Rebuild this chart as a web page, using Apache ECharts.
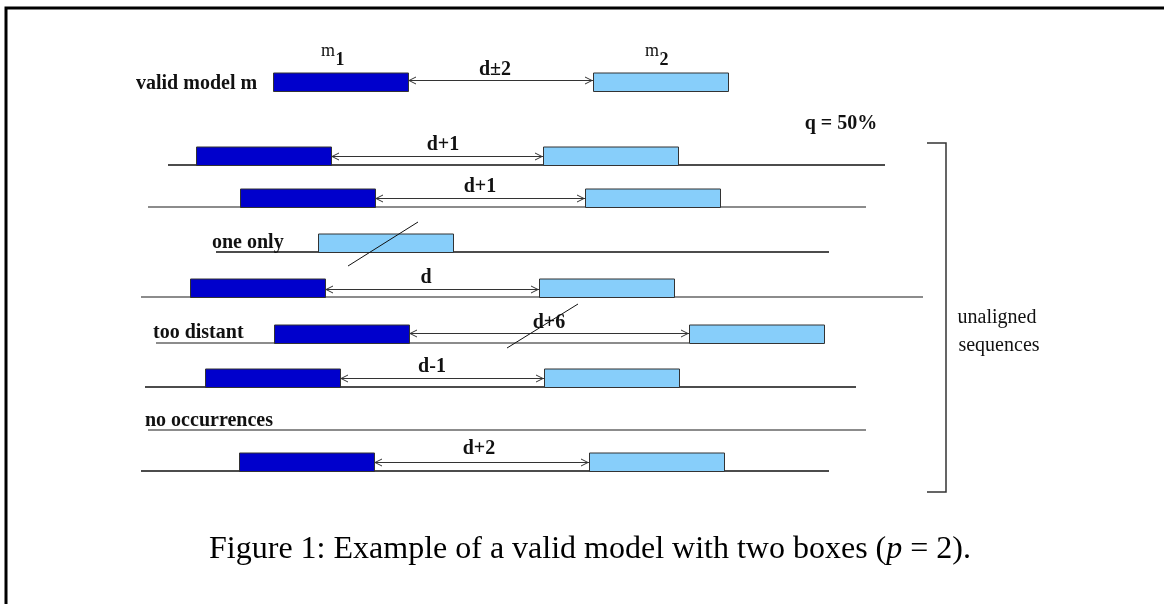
<!DOCTYPE html>
<html><head><meta charset="utf-8">
<script src="https://cdn.jsdelivr.net/npm/echarts@6/dist/echarts.min.js"></script>
<style>html,body{margin:0;padding:0;background:#fff}#c{width:1164px;height:604px}</style>
</head><body><div id="c"></div>
<script>
// ---- diagram data (units: diagram coordinates, x to the right, y downward) ----
const rowBaseline = [91, 165, 207, 252, 297, 343, 387, 430, 471];
const lineFrom    = [null, 168, 148, 216, 141, 156, 145, 148, 141];
const lineTo      = [null, 885, 866, 829, 923, 689, 856, 866, 829];
const lineShade   = [null, 0, 1, 0, 1, 1, 0, 1, 0];
const box1Start   = [273, 196, 240, null, 190, 274, 205, null, 239];
const box2Start   = [593, 543, 585, 318, 539, 689, 544, null, 589];
const boxLength   = 135;
const boxDepth    = 18.5;
const arrowY      = [80, 156, 198, null, 289, 333, 378, null, 462];
const gapLabels   = ['d±2', 'd+1', 'd+1', null, 'd', 'd+6', 'd-1', null, 'd+2'];
const gapLabelX   = [495, 443, 480, null, 426, 549, 432, null, 479];
const gapLabelY   = [70, 145, 187, null, 278, 323, 367, null, 449];
const rowLabels   = ['valid model m', 'one only', 'too distant', 'no occurrences'];
const rowLabelX   = [136, 212, 153, 145];
const rowLabelY   = [84, 243, 333, 421];
const strikes     = [[348, 266, 418, 222], [507, 348, 578, 304]];
const modelNames  = ['m', 'm'];
const modelSubs   = ['1', '2'];
const modelNameX  = [328, 652];
const modelNameY  = [51, 51];
const bracket     = [[927, 143], [946, 143], [946, 492], [927, 492]];
const frame       = [[6, 620], [6, 8], [1180, 8]];
const noteText    = ['q = 50%'];
const noteX       = [841];
const noteY       = [124];
const sideText    = ['unaligned', 'sequences'];
const sideX       = [997, 999];
const sideY       = [318, 346];
const captionText = ['Figure 1: Example of a valid model with two boxes (', 'p', ' = 2).'];
const captionX    = 590, captionY = 550;

// ---- build series data ----
const lineData = [], box1Data = [], box2Data = [], arrowData = [];
rowBaseline.forEach((y, i) => {
  if (lineFrom[i] !== null) lineData.push([lineFrom[i], lineTo[i], y, lineShade[i]]);
  if (box1Start[i] !== null) box1Data.push([box1Start[i], box1Start[i] + boxLength, y - boxDepth, y]);
  if (box2Start[i] !== null) box2Data.push([box2Start[i], box2Start[i] + boxLength, y - boxDepth, y]);
  if (arrowY[i] !== null) arrowData.push([box1Start[i] + boxLength, box2Start[i], arrowY[i]]);
});
const gapData = [];
gapLabels.forEach((t, i) => { if (t) gapData.push([gapLabelX[i], gapLabelY[i], i]); });

const boldSerif = 'bold 20px "Liberation Serif", "Times New Roman", serif';
const regSerif = '20px "Liberation Serif", "Times New Roman", serif';

function boxRender(fill) {
  return function (params, api) {
    const a = api.coord([api.value(0), api.value(2)]);
    const b = api.coord([api.value(1), api.value(3)]);
    return { type: 'rect', shape: { x: a[0] + 0.5, y: a[1] + 0.5, width: b[0] - a[0], height: b[1] - a[1] },
      style: { fill: fill, stroke: '#333', lineWidth: 1 } };
  };
}
function polyRender(points, width, color) {
  return (p, api) => ({ type: 'polyline', shape: { points: points.map(pt => api.coord(pt)) },
    style: { stroke: color, lineWidth: width, fill: 'none' } });
}

const option = {
  animation: false,
  backgroundColor: '#fff',
  grid: { left: 0, right: 0, top: 0, bottom: 0 },
  xAxis: { type: 'value', min: 0, max: 1164, show: false },
  yAxis: { type: 'value', min: 0, max: 604, inverse: true, show: false },
  series: [
    { type: 'custom', silent: true, clip: false, data: [0], renderItem: polyRender(frame, 3, '#000') },
    { // sequence baselines
      type: 'custom', silent: true, data: lineData,
      renderItem: (p, api) => {
        const a = api.coord([api.value(0), api.value(2)]);
        const b = api.coord([api.value(1), api.value(2)]);
        return { type: 'line', shape: { x1: a[0], y1: a[1], x2: b[0], y2: b[1] },
          style: { stroke: api.value(3) ? '#666' : '#111', lineWidth: 1.5 } };
      }
    },
    { // double-headed distance arrows
      type: 'custom', silent: true, data: arrowData,
      renderItem: (p, api) => {
        const a = api.coord([api.value(0), api.value(2)]);
        const b = api.coord([api.value(1), api.value(2)]);
        const st = { stroke: '#333', lineWidth: 1, fill: 'none' };
        return { type: 'group', children: [
          { type: 'line', shape: { x1: a[0], y1: a[1] + 0.5, x2: b[0], y2: b[1] + 0.5 }, style: st },
          { type: 'polyline', shape: { points: [[a[0] + 8, a[1] - 3], [a[0] + 1, a[1] + 0.5], [a[0] + 8, a[1] + 4]] }, style: st },
          { type: 'polyline', shape: { points: [[b[0] - 8, b[1] - 3], [b[0] - 1, b[1] + 0.5], [b[0] - 8, b[1] + 4]] }, style: st }
        ] };
      }
    },
    { type: 'custom', silent: true, data: box1Data, renderItem: boxRender('#0000CC') },
    { type: 'custom', silent: true, data: box2Data, renderItem: boxRender('#87CEFA') },
    { // strike-through lines
      type: 'custom', silent: true, data: strikes,
      renderItem: (p, api) => {
        const a = api.coord([api.value(0), api.value(1)]);
        const b = api.coord([api.value(2), api.value(3)]);
        return { type: 'line', shape: { x1: a[0], y1: a[1], x2: b[0], y2: b[1] }, style: { stroke: '#111', lineWidth: 1 } };
      }
    },
    { type: 'custom', silent: true, data: [0], renderItem: polyRender(bracket, 1.5, '#333') },
    { // gap labels
      type: 'custom', silent: true, data: gapData,
      renderItem: (p, api) => {
        const a = api.coord([api.value(0), api.value(1)]);
        return { type: 'text', x: a[0], y: a[1], style: { text: gapLabels[api.value(2)], font: boldSerif, fill: '#111', align: 'center', verticalAlign: 'middle' } };
      }
    },
    { // row labels
      type: 'custom', silent: true, data: rowLabels.map((t, i) => [rowLabelX[i], rowLabelY[i]]),
      renderItem: (p, api) => {
        const a = api.coord([api.value(0), api.value(1)]);
        return { type: 'text', x: a[0], y: a[1], style: { text: rowLabels[p.dataIndex], font: boldSerif, fill: '#111', align: 'left', verticalAlign: 'middle' } };
      }
    },
    { // model names m1 m2
      type: 'custom', silent: true, data: modelNames.map((t, i) => [modelNameX[i], modelNameY[i]]),
      renderItem: (p, api) => {
        const a = api.coord([api.value(0), api.value(1)]);
        return { type: 'group', children: [
          { type: 'text', x: a[0], y: a[1], style: { text: modelNames[p.dataIndex], font: '18px "Liberation Serif", serif', fill: '#111', align: 'center', verticalAlign: 'middle' } },
          { type: 'text', x: a[0] + 12, y: a[1] + 9, style: { text: modelSubs[p.dataIndex], font: 'bold 18px "Liberation Serif", serif', fill: '#111', align: 'center', verticalAlign: 'middle' } }
        ] };
      }
    },
    { // q note
      type: 'custom', silent: true, data: noteText.map((t, i) => [noteX[i], noteY[i]]),
      renderItem: (p, api) => {
        const a = api.coord([api.value(0), api.value(1)]);
        return { type: 'text', x: a[0], y: a[1], style: { text: noteText[p.dataIndex], font: boldSerif, fill: '#111', align: 'center', verticalAlign: 'middle' } };
      }
    },
    { // side text
      type: 'custom', silent: true, data: sideText.map((t, i) => [sideX[i], sideY[i]]),
      renderItem: (p, api) => {
        const a = api.coord([api.value(0), api.value(1)]);
        return { type: 'text', x: a[0], y: a[1], style: { text: sideText[p.dataIndex], font: regSerif, fill: '#111', align: 'center', verticalAlign: 'middle' } };
      }
    },
    { // caption
      type: 'custom', silent: true, data: [[captionX, captionY]],
      renderItem: (p, api) => {
        const a = api.coord([api.value(0), api.value(1)]);
        return { type: 'text', x: a[0], y: a[1], style: {
          text: '{t|' + captionText[0] + '}{i|' + captionText[1] + '}{t|' + captionText[2] + '}',
          align: 'center', verticalAlign: 'middle',
          rich: { t: { font: '32px "Liberation Serif", serif', fill: '#000' }, i: { font: 'italic 32px "Liberation Serif", serif', fill: '#000' } } } };
      }
    }
  ]
};
echarts.init(document.getElementById('c'), null, { renderer: 'canvas' }).setOption(option);
</script></body></html>
